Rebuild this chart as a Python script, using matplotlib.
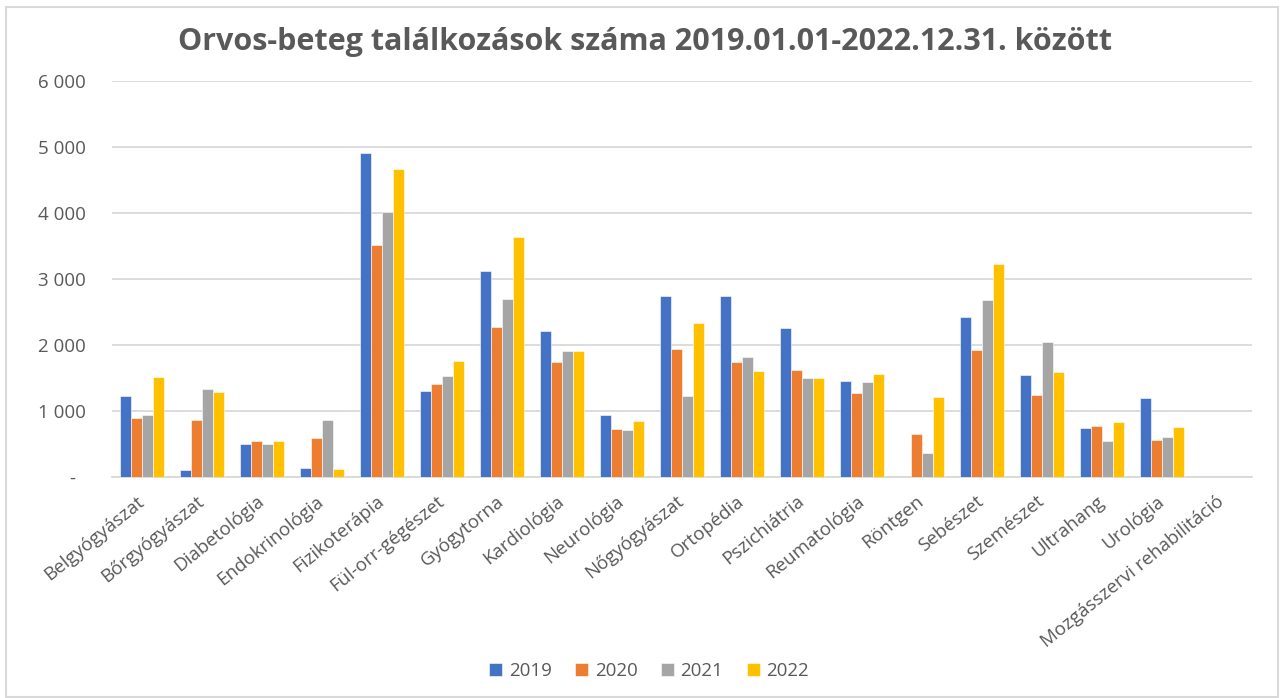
import matplotlib
matplotlib.use("Agg")
import matplotlib.pyplot as plt
import matplotlib.patches as patches
import matplotlib.transforms as mtransforms
import numpy as np

# Szakterületek
categories = ["Belgyógyászat", "Bőrgyógyászat", "Diabetológia", "Endokrinológia",
              "Fizikoterápia", "Fül-orr-gégészet", "Gyógytorna", "Kardiológia",
              "Neurológia", "Nőgyógyászat", "Ortopédia", "Pszichiátria",
              "Reumatológia", "Röntgen", "Sebészet", "Szemészet", "Ultrahang",
              "Urológia", "Mozgásszervi rehabilitáció"]

years = ["2019", "2020", "2021", "2022"]

v2019 = [1222, 111, 505, 136, 4904, 1298, 3126, 2207, 945, 2737, 2737, 2253,
         1460, 0, 2424, 1545, 737, 1197, 0]
v2020 = [889, 869, 551, 596, 3510, 1404, 2278, 1737, 722, 1944, 1737, 1621,
         1268, 652, 1924, 1237, 768, 566, 0]
v2021 = [945, 1328, 505, 869, 4010, 1530, 2702, 1914, 707, 1222, 1813, 1505,
         1444, 359, 2687, 2045, 545, 606, 0]
v2022 = [1515, 1283, 551, 121, 4672, 1758, 3641, 1914, 844, 2328, 1606, 1505,
         1556, 1207, 3232, 1586, 828, 758, 0]

yticks = [0, 1000, 2000, 3000, 4000, 5000, 6000]
ytick_labels = ["-  ", "1 000", "2 000", "3 000", "4 000", "5 000", "6 000"]

colors = ["#4472c4", "#ed7d31", "#a5a5a5", "#ffc000"]
text_col = "#595959"
grid_col = "#d9d9d9"

plt.rcParams['font.family'] = ['Open Sans', 'DejaVu Sans']

fig = plt.figure(figsize=(12.8, 6.98), dpi=100)
ax = fig.add_axes([112/1280, 1-477/698, 1140/1280, 396/698])

# outer chart frame
fig.patches.append(patches.Rectangle((6/1280, 0.002), 1272/1280, 1-8/698,
                                     transform=fig.transFigure, fill=False,
                                     edgecolor=grid_col, linewidth=1.5))

x = np.arange(len(categories))
bw = 0.183
series = [v2019, v2020, v2021, v2022]
for i, (vals, col, yr) in enumerate(zip(series, colors, years)):
    ax.bar(x + (i - 1.5) * bw, vals, width=bw, color=col, label=yr,
           edgecolor="white", linewidth=0.4, zorder=3)

ax.set_xlim(-0.5, len(categories) - 0.5)
ax.set_ylim(0, 6000)
ax.set_yticks(yticks)
ax.set_yticklabels(ytick_labels)
ax.grid(axis="y", color=grid_col, linewidth=1.3, zorder=0)
for s in ["top", "right", "left"]:
    ax.spines[s].set_visible(False)
ax.spines["bottom"].set_color(grid_col)
ax.spines["bottom"].set_linewidth(1.3)
ax.tick_params(axis="y", length=0, pad=19, labelsize=13.5, labelcolor=text_col)
ax.tick_params(axis="x", length=0, pad=11, labelsize=13.5, labelcolor=text_col)

ax.set_xticks(x)
ax.set_xticklabels(categories, rotation=39, ha="right", va="top", rotation_mode="anchor")
shift = mtransforms.ScaledTranslation(-6/100, 0, fig.dpi_scale_trans)
for lbl in ax.get_xticklabels():
    lbl.set_transform(lbl.get_transform() + shift)

fig.text(645/1280, 1-42/698, "Orvos-beteg találkozások száma 2019.01.01-2022.12.31. között",
         ha="center", va="center", fontsize=22, fontweight="bold", color=text_col)

fig.legend(loc="center", bbox_to_anchor=(649/1280, 1-671/698), ncol=4, frameon=False,
           fontsize=13.5, labelcolor=text_col, handlelength=0.7, handleheight=0.7,
           handletextpad=0.35, columnspacing=1.25)

fig.savefig("out.png", dpi=100)
